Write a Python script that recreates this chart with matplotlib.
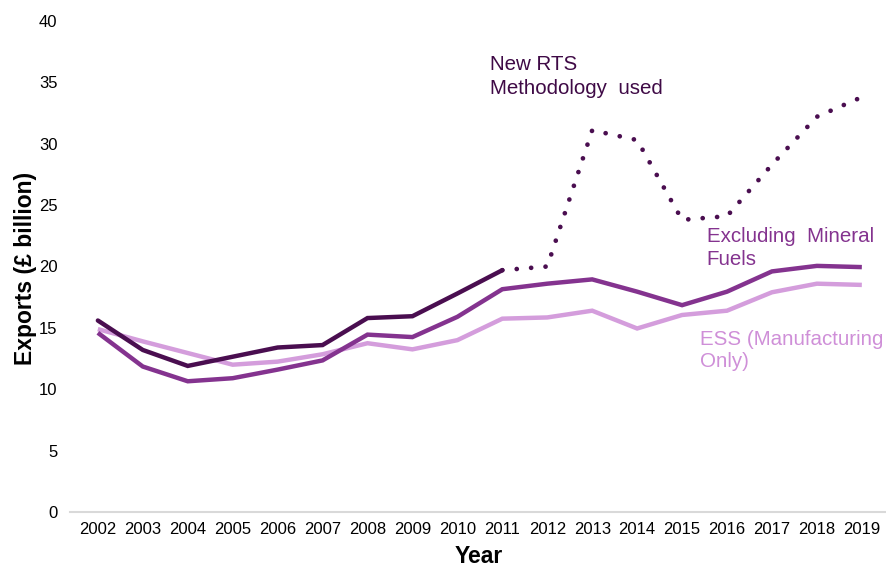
import matplotlib
matplotlib.use("Agg")
import matplotlib.pyplot as plt

plt.rcParams['font.family'] = ['Liberation Sans', 'DejaVu Sans']

years = list(range(2002, 2020))
rts_old_years = years[:10]          # 2002-2011
rts_old = [15.6, 13.2, 11.9, 12.65, 13.4, 13.6, 15.8, 15.95, 17.8, 19.7]
rts_new_years = years[9:]           # 2011-2019
rts_new = [19.7, 20.0, 31.1, 30.3, 23.8, 24.1, 28.3, 32.2, 33.8]
excl_fuels = [14.6, 11.85, 10.65, 10.9, 11.6, 12.35, 14.45, 14.25, 15.9, 18.15,
              18.6, 18.95, 17.95, 16.85, 17.95, 19.6, 20.05, 19.95]
ess = [14.9, 13.9, 12.95, 12.0, 12.25, 12.85, 13.75, 13.25, 14.0, 15.75,
       15.85, 16.4, 14.95, 16.05, 16.4, 17.9, 18.6, 18.5]

c_dark = '#4a0e50'
c_mid = '#84338f'
c_light = '#d49ddc'

fig = plt.figure(figsize=(8.87, 5.68), dpi=100)
ax = fig.add_axes([70/887, 56/568, 817/887, 491/568])

ax.plot(years, ess, color=c_light, lw=3.2, solid_capstyle='butt', solid_joinstyle='miter')
ax.plot(years, excl_fuels, color=c_mid, lw=3.2, solid_capstyle='butt', solid_joinstyle='miter')
ax.plot(rts_old_years, rts_old, color=c_dark, lw=3.2, solid_capstyle='round', solid_joinstyle='miter')
ax.plot(rts_new_years, rts_new, color=c_dark, lw=3.4, linestyle=(0, (0.01, 3.05)),
        dash_capstyle='round')

ax.set_xlim(2001.38, 2019.56)
ax.set_ylim(0, 40)
ax.set_xticks(years)
ax.set_xticklabels([str(y) for y in years])
ax.set_yticks(range(0, 41, 5))
ax.tick_params(axis='both', length=0, labelsize=12, colors='#000000')
ax.tick_params(axis='y', pad=9)
ax.tick_params(axis='x', pad=7)
for s in ['top', 'right', 'left']:
    ax.spines[s].set_visible(False)
ax.spines['bottom'].set_color('#d9d9d9')
ax.spines['bottom'].set_linewidth(1.5)

ax.set_xlabel('Year', fontsize=16.5, fontweight='bold', labelpad=6)
ax.set_ylabel('Exports (£ billion)', fontsize=16.5, fontweight='bold')
ax.yaxis.set_label_coords(-0.041, 0.497)

ax.text(2010.72, 37.2, 'New RTS\nMethodology  used', color='#3f0a46', fontsize=14.8,
        va='top', ha='left', linespacing=1.3)
ax.text(2015.55, 23.2, 'Excluding  Mineral\nFuels', color=c_mid, fontsize=14.8,
        va='top', ha='left', linespacing=1.25, clip_on=False)
ax.text(2015.4, 14.8, 'ESS (Manufacturing\nOnly)', color='#cf8fd8', fontsize=14.8,
        va='top', ha='left', linespacing=1.2, clip_on=False)

fig.savefig('out.png', dpi=100)
